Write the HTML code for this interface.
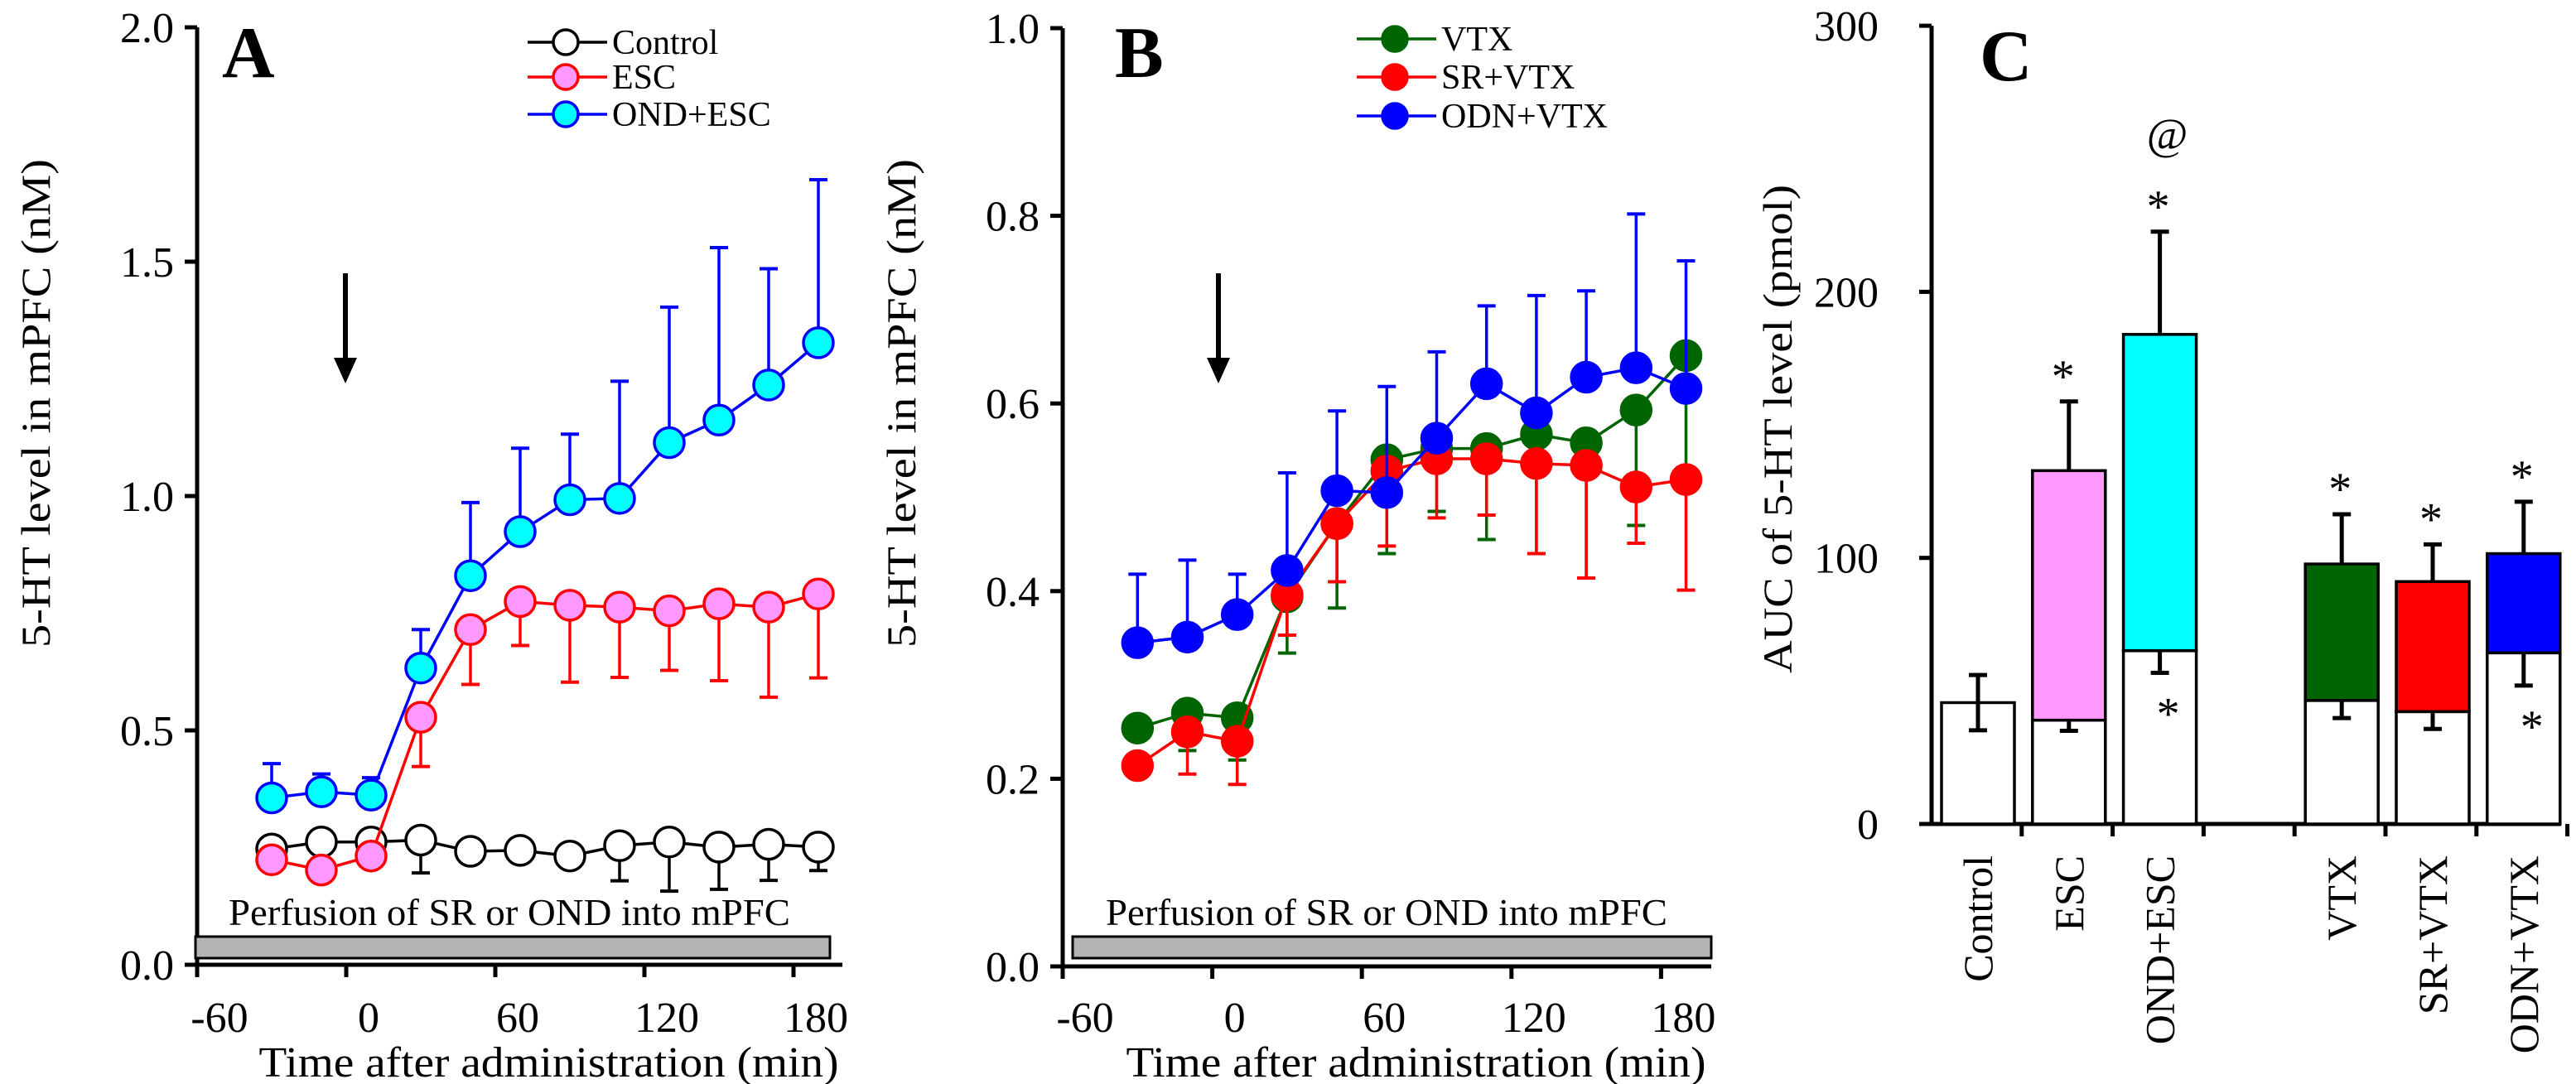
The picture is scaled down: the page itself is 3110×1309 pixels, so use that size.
<!DOCTYPE html>
<html><head><meta charset="utf-8"><style>
body{margin:0;background:#fff}
svg{display:block}
text{font-family:"Liberation Serif","DejaVu Serif","Times New Roman",serif}
</style></head><body>
<svg id="fig" width="3110" height="1309" viewBox="0 0 3110 1309" xmlns="http://www.w3.org/2000/svg"></svg>
<script>
// ---- Panel A data ----
const timesA = [-30,-10,10,30,50,70,90,110,130,150,170,190];
const ctrlVals = [0.247,0.262,0.262,0.266,0.242,0.244,0.232,0.254,0.262,0.251,0.257,0.251];
const ctrlErr = [0.01,0.01,0.01,0.07,0.01,0.01,0.01,0.075,0.105,0.09,0.077,0.05];
const escVals = [0.224,0.202,0.232,0.528,0.715,0.775,0.767,0.763,0.755,0.770,0.763,0.791];
const escErr = [0.01,0.01,0.01,0.105,0.117,0.094,0.164,0.15,0.127,0.164,0.192,0.179];
const ondVals = [0.356,0.369,0.362,0.633,0.830,0.924,0.992,0.995,1.114,1.162,1.237,1.327];
const ondErr = [0.073,0.038,0.037,0.082,0.156,0.178,0.14,0.25,0.289,0.368,0.248,0.348];
const ticksA = [0,0.5,1.0,1.5,2.0];
const tickLabelsA = ["0.0","0.5","1.0","1.5","2.0"];
const xTicks = [-60,0,60,120,180];
const xTickLabels = ["-60","0","60","120","180"];
// ---- Panel B data ----
const timesB = [-30,-10,10,30,50,70,90,110,130,150,170,190];
const vtxVals = [0.254,0.270,0.265,0.394,0.472,0.540,0.552,0.552,0.567,0.558,0.593,0.651];
const vtxErr = [0.01,0.04,0.045,0.06,0.09,0.10,0.067,0.097,0.127,0.144,0.123,0.13];
const srVals = [0.214,0.25,0.24,0.396,0.472,0.528,0.541,0.541,0.536,0.534,0.511,0.519];
const srErr = [0.01,0.045,0.046,0.043,0.062,0.08,0.063,0.06,0.096,0.12,0.06,0.118];
const odnVals = [0.345,0.351,0.375,0.422,0.507,0.505,0.563,0.621,0.590,0.628,0.638,0.616];
const odnErr = [0.073,0.082,0.043,0.104,0.085,0.113,0.092,0.083,0.125,0.092,0.164,0.136];
const ticksB = [0,0.2,0.4,0.6,0.8,1.0];
const tickLabelsB = ["0.0","0.2","0.4","0.6","0.8","1.0"];
// ---- Panel C data ----
const catsC = ["Control","ESC","OND+ESC","VTX","SR+VTX","ODN+VTX"];
const slotC = [0,1,2,4,5,6];
const baseVals = [45.6,39,65.1,46.4,42.2,64.3];
const baseErr = [10.4,4,8.3,6.6,6.5,12.3];
const topVals = [null,132.8,184,97.7,91.1,101.6];
const topErr = [null,26,38.6,18.7,14,19.5];
const topColors = [null,"#ff99ff","#00ffff","#006400","#ff0000","#0000ff"];
const ticksC = [0,100,200,300];
const starsUpper = [null,"*","*","*","*","*"];
const starsLower = [null,null,"*",null,null,"*"];

const NS="http://www.w3.org/2000/svg";
const svg=document.getElementById('fig');
function mk(tag,attrs,parent){const e=document.createElementNS(NS,tag);for(const k in attrs)e.setAttribute(k,attrs[k]);(parent||svg).appendChild(e);return e;}
function txt(s,attrs,parent){attrs['font-family']="'Liberation Serif','DejaVu Serif','Times New Roman',serif";const e=mk('text',attrs,parent);e.textContent=s;return e;}

const xA=t=>238+(t+60)*3.0, yA=v=>1165-v*566;
const xB=t=>1283+(t+60)*3.01, yB=v=>1167-v*1133;
const yC=v=>995-v*3.213, xC=i=>2388+i*109.8;

function timeAxes(x0,xend,yfn,ticks,labels,xfn,title,panel){
  const g=mk('g',{});
  
  
  mk('line',{x1:x0,y1:yfn(ticks[ticks.length-1]),x2:x0,y2:yfn(0)+2,stroke:'#000','stroke-width':5},g);
  mk('line',{x1:x0-15,y1:yfn(0),x2:xend,y2:yfn(0),stroke:'#000','stroke-width':5},g);
  ticks.forEach((v,i)=>{
    mk('line',{x1:x0-15,y1:yfn(v),x2:x0,y2:yfn(v),stroke:'#000','stroke-width':5},g);
    const t=txt(labels[i],{x:x0-28,y:yfn(v)+18,'text-anchor':'end','font-size':52},g);
    
    
  });
  xTicks.forEach((t,i)=>{
    mk('line',{x1:xfn(t),y1:yfn(0),x2:xfn(t),y2:yfn(0)+15,stroke:'#000','stroke-width':5},g);
    const l=txt(xTickLabels[i],{x:xfn(t)+27,y:1246,'text-anchor':'middle','font-size':52},g);
    
    
  });
  const xt=txt('Time after administration (min)',{x:(x0+xend)/2+35,y:1300,'text-anchor':'middle','font-size':52,textLength:700,lengthAdjust:'spacingAndGlyphs'},g);
  
  
  const yt=txt(title,{x:0,y:0,'text-anchor':'middle','font-size':50,textLength:590,lengthAdjust:'spacingAndGlyphs',transform:`translate(${x0-178},487) rotate(-90)`},g);
  
  
}
function perfusion(x1,x2,panel){
  const r=mk('rect',{x:x1,y:1131,width:x2-x1,height:26,fill:'#b3b3b3',stroke:'#000','stroke-width':3});
  
  
  const t=txt('Perfusion of SR or OND into mPFC',{x:x1+40,y:1117,'font-size':46,textLength:678,lengthAdjust:'spacingAndGlyphs'});
  
  
}
function arrow(x,panel){
  const g=mk('g',{});
  
  
  mk('line',{x1:x,y1:330,x2:x,y2:440,stroke:'#000','stroke-width':6},g);
  mk('polygon',{points:`${x-14},432 ${x+14},432 ${x},463`,fill:'#000'},g);
}
function series(times,vals,errs,dir,xfn,yfn,line,fill,name){
  const g=mk('g',{});
  
  
  times.forEach((t,i)=>{
    const x=xfn(t),y=yfn(vals[i]),ye=yfn(vals[i]+dir*errs[i]);
    mk('line',{x1:x,y1:y,x2:x,y2:ye,stroke:line,'stroke-width':3.5},g);
    mk('line',{x1:x-11,y1:ye,x2:x+11,y2:ye,stroke:line,'stroke-width':4},g);
  });
  mk('polyline',{points:times.map((t,i)=>xfn(t)+','+yfn(vals[i])).join(' '),fill:'none',stroke:line,'stroke-width':3.5},g);
  times.forEach((t,i)=>{
    const c=mk('ellipse',{cx:xfn(t),cy:yfn(vals[i]),rx:18,ry:18,fill:fill,stroke:line,'stroke-width':3.5},g);
    
    
  });
}
function legend(x,y,label,line,fill,name){
  const g=mk('g',{});
  
  
  mk('line',{x1:x,y1:y,x2:x+96,y2:y,stroke:line,'stroke-width':3.5},g);
  mk('circle',{cx:x+46,cy:y,r:15,fill:fill,stroke:line,'stroke-width':3.5},g);
  txt(label,{x:x+102,y:y+14,'font-size':42},g);
}
function panelLetter(s,x,y,name){
  const t=txt(s,{x:x,y:y,'font-size':88,'font-weight':'bold'});
  
  
}

// Panel A
timeAxes(238,1017,yA,ticksA,tickLabelsA,xA,'5-HT level in mPFC (nM)','panel-a');
perfusion(236,1002,'panel-a');
arrow(417,'panel-a');
series(timesA,ctrlVals,ctrlErr,-1,xA,yA,'#000','#fff','control');
series(timesA,escVals,escErr,-1,xA,yA,'#ff0000','#ff99ff','esc');
series(timesA,ondVals,ondErr,1,xA,yA,'#0000ff','#00ffff','ond-esc');
legend(637,51,'Control','#000','#fff','control');
legend(637,93,'ESC','#ff0000','#ff99ff','esc');
legend(637,138,'OND+ESC','#0000ff','#00ffff','ond-esc');
panelLetter('A',268,93,'panel-a-letter');

// Panel B
timeAxes(1283,2066,yB,ticksB,tickLabelsB,xB,'5-HT level in mPFC (nM)','panel-b');
perfusion(1295,2066,'panel-b');
arrow(1471,'panel-b');
series(timesB,vtxVals,vtxErr,-1,xB,yB,'#006400','#006400','vtx');
series(timesB,srVals,srErr,-1,xB,yB,'#ff0000','#ff0000','sr-vtx');
series(timesB,odnVals,odnErr,1,xB,yB,'#0000ff','#0000ff','odn-vtx');
legend(1638,47,'VTX','#006400','#006400','vtx');
legend(1638,93,'SR+VTX','#ff0000','#ff0000','sr-vtx');
legend(1638,140,'ODN+VTX','#0000ff','#0000ff','odn-vtx');
panelLetter('B',1346,93,'panel-b-letter');

// Panel C
(function(){
  const g=mk('g',{});
  
  
  mk('line',{x1:2332,y1:yC(300),x2:2332,y2:yC(0)+2,stroke:'#000','stroke-width':5},g);
  mk('line',{x1:2317,y1:yC(0),x2:3092,y2:yC(0),stroke:'#000','stroke-width':5},g);
  ticksC.forEach(v=>{
    mk('line',{x1:2317,y1:yC(v),x2:2332,y2:yC(v),stroke:'#000','stroke-width':5},g);
    const t=txt(String(v),{x:2268,y:yC(v)+18,'text-anchor':'end','font-size':52},g);
    
    
  });
  for(let i=1;i<=7;i++){
    mk('line',{x1:2333+i*109.8-2,y1:yC(0),x2:2333+i*109.8-2,y2:yC(0)+15,stroke:'#000','stroke-width':5},g);
  }
  const yt=txt('AUC of 5-HT level (pmol)',{x:0,y:0,'text-anchor':'middle','font-size':50,textLength:590,lengthAdjust:'spacingAndGlyphs',transform:'translate(2163,518) rotate(-90)'},g);
  
  
})();
catsC.forEach((c,i)=>{
  const cx=xC(slotC[i]), w=88;
  const g=mk('g',{});
  
  
  if(topVals[i]!==null){
    const ye=yC(topVals[i]+topErr[i]);
    mk('line',{x1:cx,y1:yC(topVals[i]),x2:cx,y2:ye,stroke:'#000','stroke-width':5},g);
    mk('line',{x1:cx-11,y1:ye,x2:cx+11,y2:ye,stroke:'#000','stroke-width':5},g);
    mk('rect',{x:cx-w/2,y:yC(topVals[i]),width:w,height:yC(baseVals[i])-yC(topVals[i]),fill:topColors[i],stroke:'#000','stroke-width':3.5},g);
  }
  mk('rect',{x:cx-w/2,y:yC(baseVals[i]),width:w,height:yC(0)-yC(baseVals[i]),fill:'#fff',stroke:'#000','stroke-width':3.5},g);
  const be=yC(baseVals[i]-baseErr[i]);
  const eu = topVals[i]===null ? yC(baseVals[i]+baseErr[i]) : yC(baseVals[i]);
  mk('line',{x1:cx,y1:eu,x2:cx,y2:be,stroke:'#000','stroke-width':5},g);
  mk('line',{x1:cx-11,y1:be,x2:cx+11,y2:be,stroke:'#000','stroke-width':5},g);
  if(topVals[i]===null) mk('line',{x1:cx-11,y1:eu,x2:cx+11,y2:eu,stroke:'#000','stroke-width':5},g);
  const l=txt(c,{x:0,y:0,'text-anchor':'end','font-size':50,transform:`translate(${cx+17},1033) rotate(-90)`});
  
  
  if(starsUpper[i]){
    const top=topVals[i]+topErr[i];
    const s=txt('*',{x:cx+(i===1?-7:-2),y:yC(top)-12,'text-anchor':'middle','font-size':56});
    
    
  }
  if(starsLower[i]){
    const s=txt('*',{x:cx+10,y:be+68,'text-anchor':'middle','font-size':56});
    
    
  }
});
{
  const at=txt('@',{x:xC(2)+9,y:180,'text-anchor':'middle','font-size':54});
  
  
}
panelLetter('C',2390,97,'panel-c-letter');
</script>
</body></html>
